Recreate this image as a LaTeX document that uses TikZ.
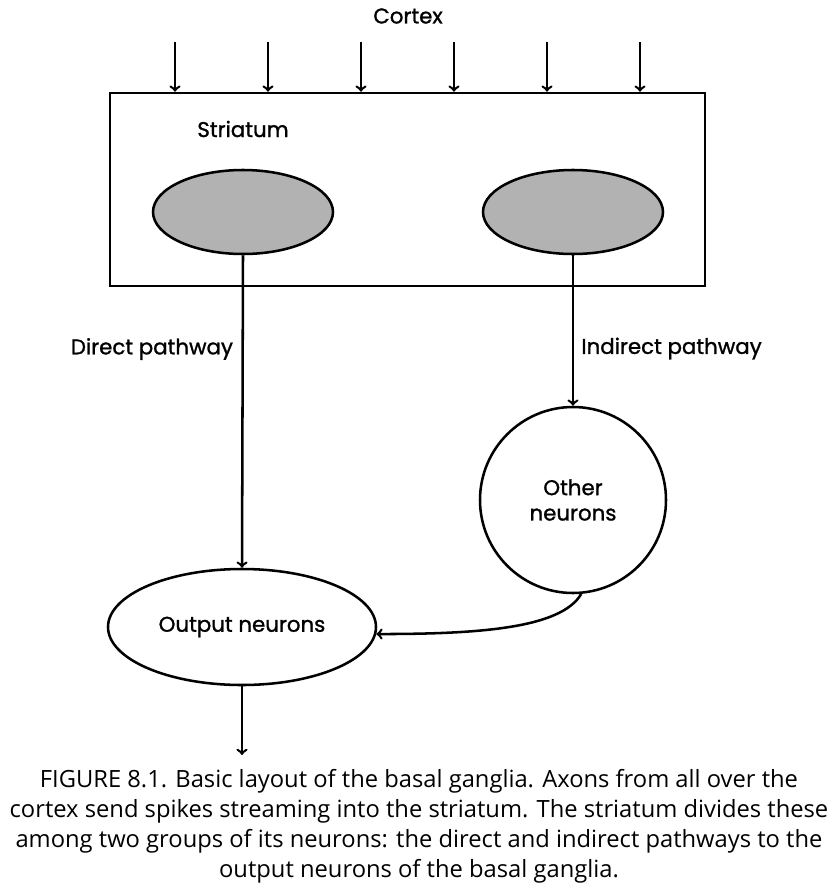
\documentclass[tikz,border=0pt]{standalone}
\usepackage{fontspec}
\setmainfont{Poppins}[AutoFakeBold=1.2]
\newfontfamily\capfont{Open Sans}
\usetikzlibrary{arrows,shapes.geometric}

\tikzset{
  lbl/.style={font=\fontsize{16}{19}\selectfont\bfseries},
  cellgroup/.style={ellipse,draw,fill=black!30,minimum width=135pt,minimum height=63pt,inner sep=0pt},
}

\begin{document}
\begin{tikzpicture}[->,line width=1.9pt,x=0.75pt,y=-0.75pt]
    \useasboundingbox (0,0) rectangle (839,896);
    \node[lbl] (Cx) at (408,16) {Cortex};
    \node[draw,minimum width=446.25pt,minimum height=144.75pt,inner sep=0pt] (St) at (407.5,189.5) {};
    \node[lbl] (StL) at (243,129) {Striatum};
    \node[cellgroup] (D)  at (243,212) {};
    \node[cellgroup] (I)  at (573,212) {};
    \node[circle,draw,minimum size=139.5pt,align=center,lbl] (Oth) at (573,500) {Other\\neurons};
    \node[ellipse,draw,minimum width=201pt,minimum height=87pt,inner sep=0pt,lbl] (Out) at (242,627) {Output neurons};
    \coordinate (end) at (242,755);
    % axons from cortex
    \foreach \x in {175,268,361,454,547,640}
      \draw (\x,42) -- (\x,42 |- St.north);
    \path
      (D.south) edge node [lbl, left, pos=0.3, xshift=-3pt] {Direct pathway} (Out.north)
      (I.south) edge node [lbl, right, pos=0.62, xshift=2pt] {Indirect pathway} (Oth.north)
      (Oth.-85) edge [out=240, in=0, out looseness=0.5, in looseness=1.2] (Out.-3)
      (Out.south) edge (end);
    \node[align=center,font=\capfont\fontsize{17.8}{22.5}\selectfont] (Cap) at (419,826)
      {FIGURE 8.1. Basic layout of the basal ganglia. Axons from all over the\\
       cortex send spikes streaming into the striatum. The striatum divides these\\
       among two groups of its neurons: the direct and indirect pathways to the\\
       output neurons of the basal ganglia.};
\end{tikzpicture}
\end{document}
